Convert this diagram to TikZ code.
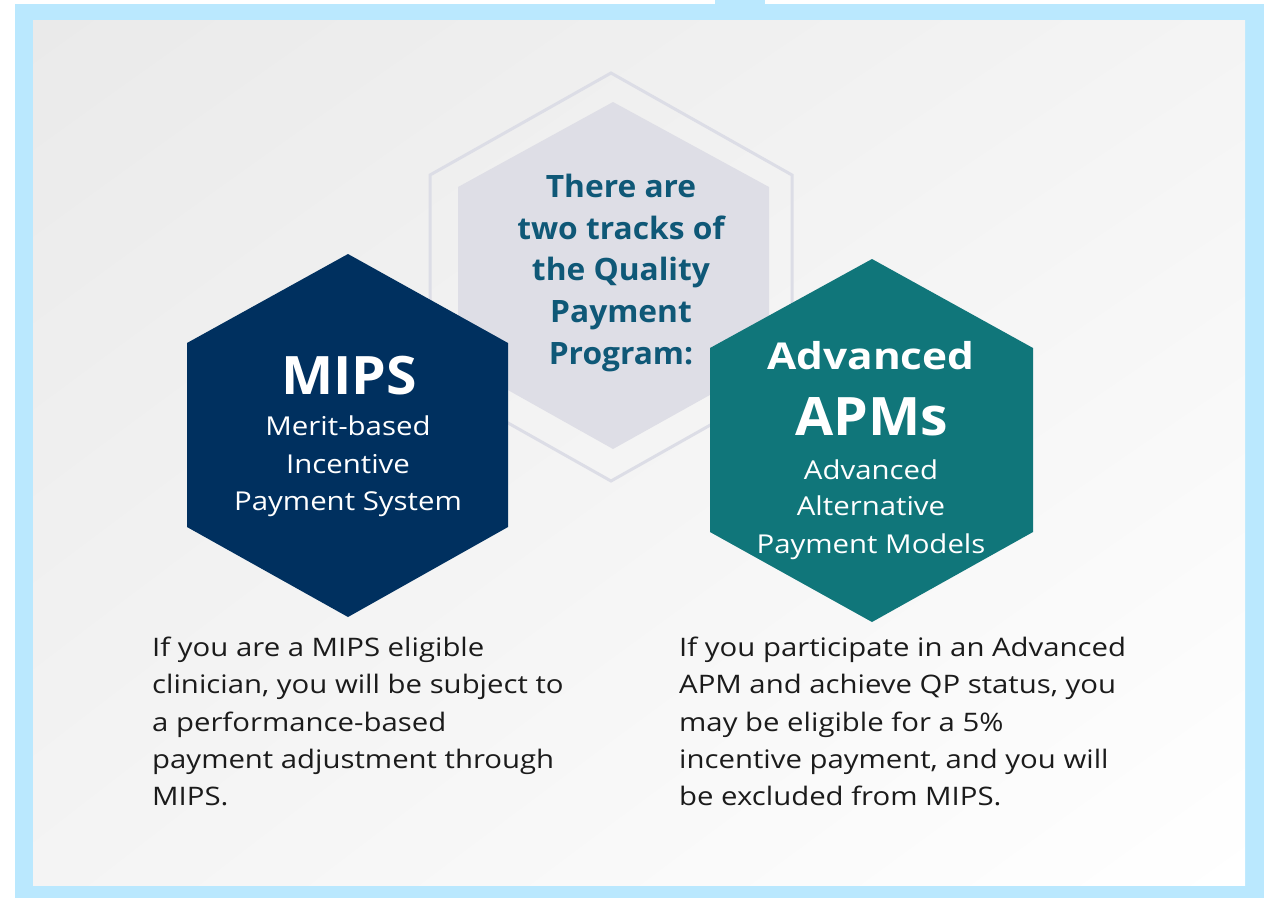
\documentclass[tikz,border=0pt]{standalone}
\usepackage{fontspec}
\usetikzlibrary{shadings}
\setmainfont{Open Sans}
\newfontfamily\headfont[FakeStretch=1.03]{Open Sans}
\newfontfamily\bigfont[FakeStretch=1.045]{Open Sans}
\newfontfamily\midfont[FakeStretch=1.145]{Open Sans}
\newfontfamily\smallfont[FakeStretch=1.13]{Open Sans}
\newfontfamily\bodyfont[FakeStretch=1.15]{Open Sans}
\definecolor{framecol}{HTML}{BAE8FE}
\definecolor{mipscol}{HTML}{00305F}
\definecolor{apmcol}{HTML}{10767A}
\definecolor{hexgray}{HTML}{DEDEE6}
\definecolor{hexline}{HTML}{DCDDE6}
\definecolor{headcol}{HTML}{0F5877}
\definecolor{bodycol}{HTML}{1B1B1B}
\definecolor{panelA}{HTML}{EAEAEA}
\definecolor{panelB}{HTML}{F4F4F4}
\begin{document}
\begin{tikzpicture}[x=1pt,y=-1pt,
  headtxt/.style={anchor=base,inner sep=0pt,text=headcol,font=\headfont\fontsize{30.8}{36}\selectfont\bfseries},
  hexbig/.style={anchor=base,inner sep=0pt,text=white,font=\bigfont\fontsize{53}{60}\selectfont\bfseries},
  hexmid/.style={anchor=base,inner sep=0pt,text=white,font=\midfont\fontsize{37}{44}\selectfont\bfseries},
  hexsmall/.style={anchor=base,inner sep=0pt,text=white,font=\smallfont\fontsize{26}{32}\selectfont},
  bodytxt/.style={anchor=base west,inner sep=0pt,text=bodycol,font=\bodyfont\fontsize{25.5}{32}\selectfont}]
\useasboundingbox (0,0) rectangle (1266,898);
% page, frame and panel
\fill[white] (0,0) rectangle (1266,898);
\fill[framecol] (15,4) rectangle (1264,898);
\fill[framecol] (715,0) rectangle (765,4);
\shade[upper left=panelA, upper right=panelB, lower left=panelB, lower right=white]
  (33,20) rectangle (1245,885);
% central hexagon with its outline
\draw[hexline,line width=3pt,line join=miter]
  (611,73) -- (792,175) -- (792,379) -- (611,481) -- (430,379) -- (430,175) -- cycle;
\fill[hexgray]
  (613,102) -- (769,187) -- (769,362) -- (613,449) -- (458,362) -- (458,187) -- cycle;
% MIPS hexagon
\fill[mipscol]
  (348,254) -- (508,343) -- (508,527) -- (348,617) -- (187,527) -- (187,343) -- cycle;
% Advanced APMs hexagon
\fill[apmcol]
  (872,259) -- (1033,348) -- (1033,532) -- (872,622) -- (710,532) -- (710,348) -- cycle;
% central text
\node[headtxt] (h1) at (621,197) {There are};
\node[headtxt] (h2) at (621,239) {two tracks of};
\node[headtxt] (h3) at (621,280) {the Quality};
\node[headtxt] (h4) at (621,322) {Payment};
\node[headtxt] (h5) at (621,364) {Program:};
% MIPS text
\node[hexbig] (m0) at (349,394) {MIPS};
\node[hexsmall] (m1) at (348,435) {Merit-based};
\node[hexsmall] (m2) at (348,473) {Incentive};
\node[hexsmall] (m3) at (348,510) {Payment System};
% APM text
\node[hexmid] (a0) at (871,369) {Advanced};
\node[hexbig] (a1) at (872,435) {APMs};
\node[hexsmall] (a2) at (871,479) {Advanced};
\node[hexsmall] (a3) at (871,515) {Alternative};
\node[hexsmall] (a4) at (871,553) {Payment Models};
% descriptions
\node[bodytxt] (l1) at (152,656) {If you are a MIPS eligible};
\node[bodytxt] (l2) at (152,693) {clinician, you will be subject to};
\node[bodytxt] (l3) at (152,731) {a performance-based};
\node[bodytxt] (l4) at (152,768) {payment adjustment through};
\node[bodytxt] (l5) at (152,805) {MIPS.};
\node[bodytxt] (r1) at (679,656) {If you participate in an Advanced};
\node[bodytxt] (r2) at (679,693) {APM and achieve QP status, you};
\node[bodytxt] (r3) at (679,731) {may be eligible for a 5\%};
\node[bodytxt] (r4) at (679,768) {incentive payment, and you will};
\node[bodytxt] (r5) at (679,805) {be excluded from MIPS.};
\end{tikzpicture}
\end{document}
